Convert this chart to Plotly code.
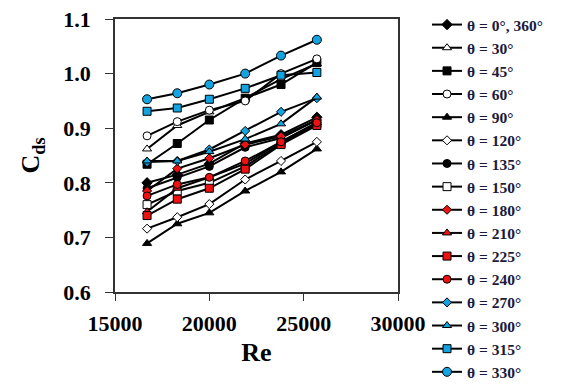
import plotly.graph_objects as go

re_vals = [16700, 18300, 20000, 21900, 23800, 25700]

labels = ["θ = 0°, 360°", "θ = 30°", "θ = 45°", "θ = 60°", "θ = 90°", "θ = 120°", "θ = 135°",
          "θ = 150°", "θ = 180°", "θ = 210°", "θ = 225°", "θ = 240°", "θ = 270°", "θ = 300°",
          "θ = 315°", "θ = 330°"]

cd_0 = [0.800, 0.815, 0.835, 0.872, 0.888, 0.920]
cd_30 = [0.862, 0.905, 0.930, 0.955, 0.990, 1.018]
cd_45 = [0.834, 0.872, 0.915, 0.955, 0.980, 1.020]
cd_60 = [0.886, 0.912, 0.933, 0.950, 1.000, 1.027]
cd_90 = [0.689, 0.725, 0.745, 0.785, 0.820, 0.862]
cd_120 = [0.716, 0.737, 0.761, 0.806, 0.840, 0.875]
cd_135 = [0.790, 0.810, 0.830, 0.865, 0.882, 0.915]
cd_150 = [0.760, 0.785, 0.800, 0.830, 0.872, 0.908]
cd_180 = [0.785, 0.826, 0.845, 0.870, 0.885, 0.915]
cd_210 = [0.747, 0.790, 0.810, 0.835, 0.875, 0.910]
cd_225 = [0.740, 0.770, 0.790, 0.825, 0.870, 0.905]
cd_240 = [0.776, 0.797, 0.810, 0.840, 0.875, 0.910]
cd_270 = [0.838, 0.840, 0.861, 0.895, 0.930, 0.955]
cd_300 = [0.840, 0.840, 0.857, 0.880, 0.908, 0.957]
cd_315 = [0.931, 0.937, 0.953, 0.973, 0.997, 1.002]
cd_330 = [0.953, 0.964, 0.980, 1.000, 1.033, 1.062]

series = [cd_0, cd_30, cd_45, cd_60, cd_90, cd_120, cd_135, cd_150, cd_180,
          cd_210, cd_225, cd_240, cd_270, cd_300, cd_315, cd_330]

BLUE = "#12a3e0"
RED = "#ee1111"
styles = [
    ("diamond", "black", 8), ("triangle-up", "white", 8), ("square", "black", 8),
    ("circle", "white", 8), ("triangle-up", "black", 8), ("diamond", "white", 7),
    ("circle", "black", 8), ("square", "white", 8), ("diamond", RED, 7),
    ("triangle-up", RED, 8), ("square", RED, 8), ("circle", RED, 8),
    ("diamond", BLUE, 7), ("triangle-up", BLUE, 8), ("square", BLUE, 8),
    ("circle", BLUE, 9),
]

fig = go.Figure()
for lab, ys, (sym, col, sz) in zip(labels, series, styles):
    fig.add_trace(go.Scatter(
        x=re_vals, y=ys, name=lab, mode="lines+markers",
        line=dict(color="black", width=2),
        marker=dict(symbol=sym, color=col, size=sz, line=dict(color="black", width=1)),
    ))

font_family = "Liberation Serif, Times New Roman, serif"
fig.update_layout(
    width=562, height=387,
    margin=dict(l=107, r=172, t=11, b=103, autoexpand=False),
    paper_bgcolor="white", plot_bgcolor="white",
    font=dict(family=font_family, color="black"),
    showlegend=True,
    legend=dict(x=0.7456, y=1.0, xref="container", yref="container",
                xanchor="left", yanchor="top", maxheight=430,
                font=dict(family=font_family, size=15.5, color="#1a1a3a", weight="bold"),
                tracegroupgap=0, bgcolor="rgba(0,0,0,0)", borderwidth=0),
    xaxis=dict(range=[15000, 30000], tickvals=[15000, 20000, 25000, 30000],
               tickformat="d", showgrid=False, zeroline=False,
               showline=True, linecolor="#333", linewidth=1.5, mirror=True,
               ticks="outside", ticklen=7, tickcolor="#333", ticklabelstandoff=4,
               ticklabeloverflow="allow",
               tickfont=dict(size=22, family=font_family, weight="bold"),
               title=dict(text="<b>Re</b>", font=dict(size=26, family=font_family), standoff=8)),
    yaxis=dict(range=[0.6, 1.1], tickvals=[0.6, 0.7, 0.8, 0.9, 1.0, 1.1],
               tickformat=".1f", showgrid=False, zeroline=False,
               showline=True, linecolor="#333", linewidth=1.5, mirror=True,
               ticks="outside", ticklen=8, tickcolor="#333", ticklabelstandoff=10,
               ticklabeloverflow="allow",
               tickfont=dict(size=22, family=font_family, weight="bold"),
               title=dict(text="<b>C<sub>ds</sub></b>", font=dict(size=26, family=font_family), standoff=16)),
)

fig.write_html("out.html")
